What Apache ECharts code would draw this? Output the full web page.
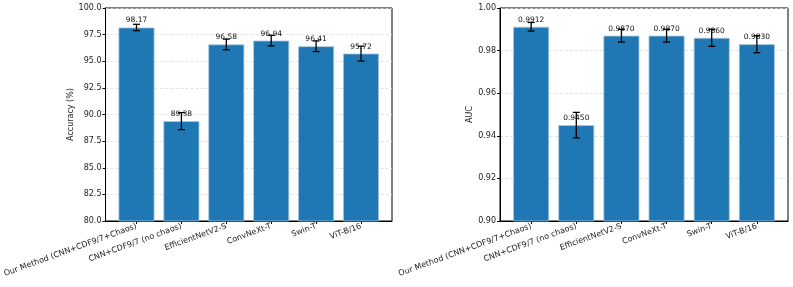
<!DOCTYPE html>
<html><head><meta charset="utf-8">
<script src="https://cdn.jsdelivr.net/npm/echarts@6/dist/echarts.min.js"></script>
<style>html,body{margin:0;padding:0;background:#fff}#c{width:793px;height:287px}</style>
</head><body><div id="c"></div>
<script>
const categories = ['Our Method (CNN+CDF9/7+Chaos)', 'CNN+CDF9/7 (no chaos)', 'EfficientNetV2-S', 'ConvNeXt-T', 'Swin-T', 'ViT-B/16'];
const accuracy = [98.17, 89.38, 96.58, 96.94, 96.41, 95.72];
const accuracyErr = [0.3, 0.8, 0.5, 0.5, 0.5, 0.7];
const auc = [0.9912, 0.9450, 0.9870, 0.9870, 0.9860, 0.9830];
const aucErr = [0.002, 0.006, 0.003, 0.003, 0.004, 0.004];
const accTicks = [80, 100, 2.5];
const aucTicks = [0.90, 1.00, 0.02];

const font = 'DejaVu Sans';
const txt = '#222';
const idx = categories.map((_, i) => i);

function xAxis(g) {
  return {
    type: 'value', gridIndex: g, min: -0.69, max: 5.69,
    axisLine: { show: true, onZero: false, lineStyle: { color: '#000', width: 1 } },
    axisTick: { show: true, customValues: idx, length: 3, lineStyle: { color: '#000' } },
    axisLabel: { customValues: idx, rotate: 20, fontSize: 8, fontFamily: font, color: txt, margin: 5,
      formatter: v => categories[Math.round(v)] },
    splitLine: { show: false }
  };
}
function yAxis(g, t, name, dec, gap) {
  return {
    type: 'value', gridIndex: g, min: t[0], max: t[1], interval: t[2],
    name: name, nameLocation: 'middle', nameGap: gap,
    nameTextStyle: { fontSize: 8, fontFamily: font, color: txt },
    axisLine: { show: true, onZero: false, lineStyle: { color: '#000', width: 1 } },
    axisTick: { show: true, length: 3, lineStyle: { color: '#000' } },
    axisLabel: { fontSize: 8, fontFamily: font, color: txt, margin: 4, formatter: v => v.toFixed(dec) },
    splitLine: { show: true, lineStyle: { type: [3, 2], color: '#dcdcdc', width: 0.8 } }
  };
}
function barSeries(g, vals, dec) {
  return {
    type: 'bar', xAxisIndex: g, yAxisIndex: g, barWidth: 36,
    data: vals.map((v, i) => [i, v]),
    itemStyle: { color: '#1f77b4', borderColor: '#a9c8e0', borderWidth: 0.8 },
    label: { show: true, position: 'top', distance: 3, fontSize: 7.5, fontFamily: font, color: '#111',
      formatter: p => p.value[1].toFixed(dec) },
    z: 2
  };
}
function errSeries(g, vals, errs) {
  return {
    type: 'custom', xAxisIndex: g, yAxisIndex: g, z: 5,
    data: vals.map((v, i) => [i, v - errs[i], v + errs[i]]),
    renderItem: (params, api) => {
      const lo = api.coord([api.value(0), api.value(1)]);
      const hi = api.coord([api.value(0), api.value(2)]);
      const w = 3.5;
      const st = { stroke: '#000', lineWidth: 1.3 };
      return { type: 'group', children: [
        { type: 'line', shape: { x1: lo[0], y1: lo[1], x2: hi[0], y2: hi[1] }, style: st },
        { type: 'line', shape: { x1: lo[0] - w, y1: lo[1], x2: lo[0] + w, y2: lo[1] }, style: st },
        { type: 'line', shape: { x1: hi[0] - w, y1: hi[1], x2: hi[0] + w, y2: hi[1] }, style: st }
      ]};
    }
  };
}

const chart = echarts.init(document.getElementById('c'), null, { renderer: 'canvas' });
chart.setOption({
  animation: false,
  backgroundColor: '#fff',
  grid: [
    { left: 104, top: 8, width: 288, height: 213, show: true, borderColor: '#000', borderWidth: 1, backgroundColor: 'transparent' },
    { left: 500, top: 8, width: 288, height: 213, show: true, borderColor: '#000', borderWidth: 1, backgroundColor: 'transparent' }
  ],
  xAxis: [xAxis(0), xAxis(1)],
  yAxis: [yAxis(0, accTicks, 'Accuracy (%)', 1, 28), yAxis(1, aucTicks, 'AUC', 2, 23)],
  series: [
    barSeries(0, accuracy, 2), errSeries(0, accuracy, accuracyErr),
    barSeries(1, auc, 4), errSeries(1, auc, aucErr)
  ]
});
</script></body></html>
